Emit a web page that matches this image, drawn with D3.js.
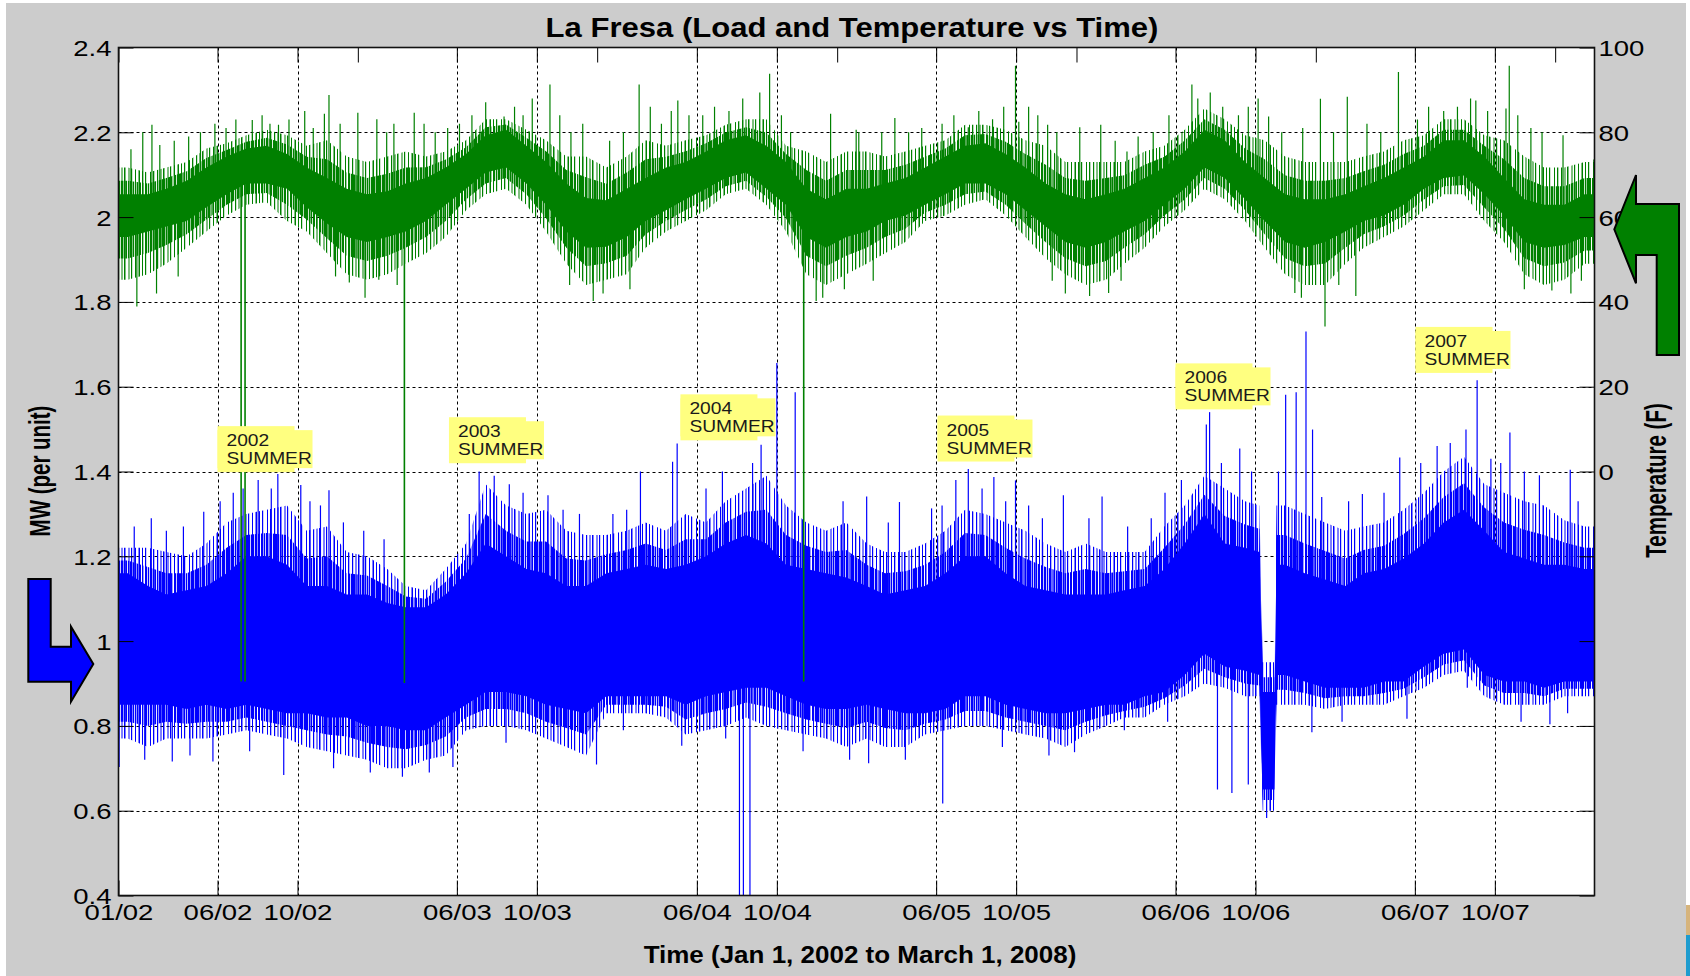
<!DOCTYPE html>
<html><head><meta charset="utf-8">
<script src="https://cdn.jsdelivr.net/npm/d3@7"></script>
<style>body{margin:0;background:#fff;} svg{display:block;}</style>
</head><body><svg id="c" width="1690" height="976"></svg>
<script>
// ---------------- DATA ----------------
const xTickDates = ["2002-01-01","2002-06-01","2002-10-01","2003-06-01","2003-10-01","2004-06-01","2004-10-01","2005-06-01","2005-10-01","2006-06-01","2006-10-01","2007-06-01","2007-10-01"];
const xTickLabels = ["01/02","06/02","10/02","06/03","10/03","06/04","10/04","06/05","10/05","06/06","10/06","06/07","10/07"];
const yearTickDates = ["2003-01-01","2004-01-01","2005-01-01","2006-01-01","2007-01-01","2008-01-01"];
const loadTicks = [0.4,0.6,0.8,1.0,1.2,1.4,1.6,1.8,2.0,2.2,2.4];
const loadTickLabels = ["0.4","0.6","0.8","1","1.2","1.4","1.6","1.8","2","2.2","2.4"];
const tempTicks = [0,20,40,60,80,100];

// Temperature (F) band, monthly readings
const tempDates = ["2002-01-01",
"2002-01-15","2002-02-15","2002-03-15","2002-04-15","2002-05-15","2002-06-15","2002-07-15","2002-08-15","2002-09-15","2002-10-15","2002-11-15","2002-12-15",
"2003-01-15","2003-02-15","2003-03-15","2003-04-15","2003-05-15","2003-06-15","2003-07-15","2003-08-15","2003-09-15","2003-10-15","2003-11-15","2003-12-15",
"2004-01-15","2004-02-15","2004-03-15","2004-04-15","2004-05-15","2004-06-15","2004-07-15","2004-08-15","2004-09-15","2004-10-15","2004-11-15","2004-12-15",
"2005-01-15","2005-02-15","2005-03-15","2005-04-15","2005-05-15","2005-06-15","2005-07-15","2005-08-15","2005-09-15","2005-10-15","2005-11-15","2005-12-15",
"2006-01-15","2006-02-15","2006-03-15","2006-04-15","2006-05-15","2006-06-15","2006-07-15","2006-08-15","2006-09-15","2006-10-15","2006-11-15","2006-12-15",
"2007-01-15","2007-02-15","2007-03-15","2007-04-15","2007-05-15","2007-06-15","2007-07-15","2007-08-15","2007-09-15","2007-10-15","2007-11-15","2007-12-15",
"2008-01-15","2008-02-15","2008-03-01"];
const tempCoreHi = [65.4,
65.4,65.4,66.7,68.6,71.7,74.3,76.2,76.8,74.9,71.7,69.2,66.7,
65.4,66.1,67.9,69.2,71.7,74.9,79.3,80.6,76.8,73.0,67.9,64.5,
64.0,66.7,69.2,71.7,73.0,75.5,78.1,79.3,76.8,73.0,66.7,64.2,
66.7,66.7,67.9,69.2,71.7,74.3,76.8,77.4,74.9,71.7,67.9,65.4,
64.2,65.4,66.7,69.2,71.7,75.5,80.6,78.1,73.0,69.2,65.4,64.2,
64.2,65.4,67.3,69.2,71.7,74.3,78.1,78.1,74.3,69.2,64.2,62.9,
62.9,65.4,65.4];
const tempCoreLo = [55.3,
55.3,56.6,57.8,59.1,62.3,65.4,67.9,67.9,66.7,62.3,58.5,55.3,
54.1,55.3,56.6,59.1,62.9,66.7,70.5,71.7,67.9,62.9,56.6,52.8,
53.0,55.3,59.1,61.6,64.2,66.7,69.2,70.5,66.7,62.9,55.3,52.8,
55.3,56.6,59.1,60.4,62.9,65.4,67.9,67.9,65.4,61.6,57.8,54.1,
52.8,54.1,56.6,59.1,62.9,66.7,71.7,69.2,64.2,59.1,54.1,52.8,
54.1,56.6,59.1,60.4,62.9,66.7,69.2,69.8,65.4,60.4,54.1,52.8,
53.4,55.3,55.3];
const tempFringeHi = [71.7,
71.7,70.5,71.7,73.0,76.2,77.4,79.3,80.6,79.3,76.8,78.1,74.3,
73.0,74.3,75.5,74.3,75.5,78.1,83.1,83.1,80.6,78.1,74.3,74.3,
71.7,74.3,78.1,76.8,78.1,79.3,81.8,83.1,83.1,76.8,75.5,73.0,
75.5,75.5,74.3,75.5,76.8,78.1,81.8,81.8,80.6,78.1,76.8,73.0,
73.0,73.0,73.0,75.5,76.8,80.6,85.6,83.1,79.3,78.1,74.3,73.0,
73.0,73.0,74.3,75.5,78.1,79.3,83.1,83.1,79.3,78.1,74.3,71.7,
71.7,73.0,73.0];
const tempFringeLo = [45.2,
45.2,46.5,49.0,52.8,56.6,60.4,62.9,63.5,59.1,56.6,51.5,46.5,
45.2,46.5,49.0,51.5,55.3,61.6,65.4,66.7,62.9,56.6,49.0,44.0,
45.2,46.5,52.8,56.6,59.1,61.6,65.4,66.7,62.9,56.6,46.5,44.0,
46.5,49.0,51.5,54.1,59.1,60.4,62.9,64.2,60.4,55.3,50.3,46.5,
44.0,45.2,49.0,52.8,57.8,61.6,66.7,64.2,59.1,52.8,46.5,44.0,
44.0,49.0,52.8,55.3,57.8,61.6,65.4,65.4,59.1,54.1,46.5,44.0,
45.2,49.0,49.0];
const tempSpikeDates = ["2002-02-21","2002-02-07","2002-07-24","2002-09-02","2002-11-18","2002-11-11","2003-01-01","2003-01-30","2003-03-28","2003-07-15","2003-08-12","2003-10-21","2004-03-05","2004-05-03","2004-04-23","2004-09-05","2004-09-20","2004-12-22","2005-01-30",
"2005-02-03","2005-03-30","2005-07-20","2005-08-26","2005-09-30","2005-10-05","2005-11-18","2006-01-06","2006-02-07","2006-03-19","2006-06-26","2006-07-24","2006-10-21","2007-01-08","2007-02-18","2007-05-07","2007-09-02","2007-10-18","2007-10-23","2008-01-13","2008-02-29",
"2002-01-29","2002-12-19","2003-02-02","2003-12-26","2004-11-30","2006-01-21","2006-02-19","2006-11-30","2007-01-15","2007-03-03","2007-12-27",
"2002-01-20","2002-03-05","2002-03-27","2002-04-18","2002-05-06","2002-05-28","2002-06-14","2002-06-29","2002-08-08","2002-08-20","2002-09-18","2002-10-12","2002-10-25","2002-12-05",
"2003-02-14","2003-02-25","2003-04-12","2003-04-29","2003-05-18","2003-06-05","2003-06-24","2003-08-28","2003-09-10","2003-09-24","2003-11-05","2003-11-22","2003-12-10",
"2004-01-20","2004-02-10","2004-03-22","2004-04-08","2004-05-20","2004-06-10","2004-06-28","2004-07-20","2004-08-10","2004-10-08","2004-10-22",
"2005-03-10","2005-04-20","2005-05-10","2005-06-10","2005-06-28","2005-08-05","2005-09-12","2005-10-20","2005-11-03","2005-12-02",
"2006-03-01","2006-04-05","2006-04-28","2006-05-22","2006-07-05","2006-08-12","2006-09-05","2006-09-20","2006-10-05","2006-11-10","2006-12-12",
"2007-01-28","2007-03-20","2007-04-10","2007-06-05","2007-06-22","2007-07-15","2007-08-05","2007-08-25","2007-09-20","2007-11-05","2007-11-25","2007-12-12",
"2002-02-28","2002-04-02","2002-11-28","2003-01-12","2003-03-02","2003-11-20","2004-01-10","2004-02-20","2004-12-10","2005-01-12","2005-02-25","2005-11-25","2005-12-15","2006-03-10","2006-12-10","2007-02-05","2007-11-15","2008-01-25","2008-02-10"];
const tempSpikeValues = [81.8,80.0,82.9,81.8,88.8,84.4,84.6,83.1,84.6,87.1,83.7,91.3,91.3,87.5,85.0,89.4,93.8,84.4,80.6,
80.0,83.4,81.2,83.1,95.7,82.5,81.8,81.2,81.8,75.5,91.3,89.4,83.7,87.9,88.4,94.2,87.5,85.6,95.7,79.3,73.6,
38.9,44.6,45.2,40.2,40.2,41.4,42.1,42.1,34.2,41.4,42.7,
76,77,78,79,80,82,81,83,84,82,83,85,81,82,
80,82,82,80,81,82,84,86,84,88,84,80,82,
78,80,86,82,84,84,86,85,88,84,80,
80,80,81,82,84,85,86,86,84,80,
78,79,80,84,88,86,84,86,88,80,81,
80,82,80,83,86,85,86,88,85,84,81,80,
42,46,46,41,44,44,42,43,41,43,45,45,42,45,41,44,43,42,45];
const tempDropDates = ["2002-07-07","2002-07-13","2003-03-13","2004-11-11"];
const tempDropValues = [-49.5,-49.5,-49.9,-49.5];

// Load (MW per unit) band, monthly readings
const loadDates = ["2002-01-01",
"2002-01-15","2002-02-15","2002-03-15","2002-04-15","2002-05-15","2002-06-15","2002-07-15","2002-08-15","2002-09-15","2002-10-15","2002-11-15","2002-12-15",
"2003-01-15","2003-02-15","2003-03-15","2003-04-15","2003-05-15","2003-06-15","2003-07-15","2003-08-15","2003-09-15","2003-10-15","2003-11-15","2003-12-15",
"2004-01-15","2004-02-15","2004-03-15","2004-04-15","2004-05-15","2004-06-15","2004-07-15","2004-08-15","2004-09-15","2004-10-15","2004-11-15","2004-12-15",
"2005-01-15","2005-02-15","2005-03-15","2005-04-15","2005-05-15","2005-06-15","2005-07-15","2005-08-15","2005-09-15","2005-10-15","2005-11-15","2005-12-15",
"2006-01-15","2006-02-15","2006-03-15","2006-04-15","2006-05-15","2006-06-15","2006-07-15","2006-08-15","2006-09-15","2006-10-07","2006-10-12","2006-10-30","2006-11-02","2006-11-15","2006-12-15",
"2007-01-15","2007-02-15","2007-03-15","2007-04-15","2007-05-15","2007-06-15","2007-07-15","2007-08-15","2007-09-15","2007-10-15","2007-11-15","2007-12-15",
"2008-01-15","2008-02-15","2008-03-01"];
const loadCoreHi = [1.16,
1.16,1.13,1.11,1.12,1.13,1.16,1.20,1.20,1.18,1.13,1.13,1.11,
1.11,1.09,1.08,1.08,1.11,1.16,1.23,1.20,1.17,1.16,1.13,1.13,
1.16,1.17,1.18,1.17,1.18,1.20,1.23,1.25,1.23,1.18,1.17,1.16,
1.15,1.13,1.11,1.12,1.13,1.16,1.20,1.20,1.16,1.13,1.12,1.11,
1.11,1.11,1.12,1.13,1.17,1.23,1.30,1.23,1.22,1.21,0.88,0.88,1.18,1.18,1.16,
1.145,1.13,1.16,1.17,1.195,1.23,1.28,1.31,1.26,1.21,1.195,1.18,
1.18,1.17,1.17];
const loadCoreLo = [0.85,
0.85,0.85,0.85,0.84,0.85,0.84,0.85,0.84,0.83,0.83,0.82,0.82,
0.80,0.80,0.79,0.79,0.82,0.85,0.88,0.88,0.87,0.85,0.84,0.83,
0.87,0.87,0.87,0.87,0.85,0.87,0.88,0.89,0.89,0.87,0.85,0.84,
0.84,0.85,0.84,0.83,0.83,0.84,0.87,0.87,0.85,0.84,0.83,0.83,
0.84,0.85,0.85,0.87,0.88,0.92,0.97,0.94,0.93,0.92,0.65,0.65,0.92,0.92,0.905,
0.89,0.89,0.89,0.905,0.905,0.94,0.97,0.98,0.92,0.905,0.905,0.89,
0.905,0.905,0.905];
const loadFringeHi = [1.22,
1.22,1.22,1.21,1.20,1.23,1.28,1.30,1.31,1.32,1.26,1.27,1.21,
1.20,1.17,1.13,1.12,1.17,1.23,1.37,1.32,1.30,1.31,1.26,1.25,
1.25,1.26,1.28,1.26,1.30,1.28,1.33,1.36,1.39,1.32,1.28,1.26,
1.28,1.23,1.21,1.21,1.23,1.26,1.31,1.30,1.28,1.26,1.23,1.21,
1.23,1.21,1.21,1.21,1.27,1.32,1.39,1.36,1.33,1.32,0.95,0.95,1.32,1.32,1.30,
1.28,1.26,1.27,1.28,1.31,1.35,1.40,1.435,1.37,1.35,1.33,1.32,
1.285,1.27,1.27];
const loadFringeLo = [0.77,
0.77,0.75,0.77,0.77,0.77,0.78,0.79,0.78,0.77,0.75,0.74,0.73,
0.72,0.70,0.70,0.72,0.73,0.79,0.80,0.80,0.79,0.77,0.75,0.73,
0.83,0.83,0.83,0.82,0.78,0.79,0.80,0.82,0.80,0.79,0.78,0.77,
0.75,0.77,0.75,0.75,0.78,0.79,0.80,0.80,0.79,0.78,0.77,0.75,
0.78,0.80,0.82,0.82,0.85,0.87,0.90,0.89,0.87,0.87,0.60,0.60,0.85,0.85,0.85,
0.84,0.85,0.85,0.85,0.87,0.89,0.92,0.93,0.87,0.85,0.85,0.85,
0.87,0.87,0.87];
const loadSpikeDates = ["2002-05-11","2002-09-01","2002-10-06","2002-11-18","2003-10-18","2004-03-07","2004-05-02","2004-04-25","2004-09-07","2004-10-01","2004-10-29",
"2005-02-15","2005-04-06","2005-05-25","2005-07-20","2005-08-28","2005-09-30","2005-12-12","2006-02-09","2006-05-16","2006-07-18","2006-07-23","2006-09-07","2006-11-16","2006-12-02","2006-12-17","2006-12-27",
"2007-03-13","2007-05-09","2007-07-25","2007-08-18","2007-09-04","2007-10-24","2007-12-08","2008-01-24",
"2002-01-02","2002-03-24","2002-05-25","2002-09-10","2003-05-26","2003-12-31","2004-05-09","2004-08-05","2004-08-11","2004-08-21",
"2005-02-18","2005-06-11","2005-12-29","2006-08-04","2006-08-26","2006-09-20","2006-10-18","2006-12-26","2007-05-20","2007-12-24",
"2002-01-25","2002-02-20","2002-03-15","2002-04-10","2002-06-05","2002-06-25","2002-07-10","2002-08-02","2002-08-22","2002-10-20","2002-11-05","2002-12-10",
"2003-01-10","2003-02-10","2003-06-20","2003-07-05","2003-07-28","2003-08-20","2003-09-10","2003-11-10","2003-12-05",
"2004-01-25","2004-02-15","2004-06-15","2004-07-10","2004-08-25","2005-01-10","2005-03-20","2005-06-10","2005-07-01","2005-08-10","2005-09-15","2005-10-20","2005-11-10",
"2006-01-20","2006-03-20","2006-04-25","2006-06-10","2006-08-10","2006-09-25","2006-11-05","2007-01-10","2007-02-20","2007-04-15","2007-06-10","2007-07-05","2007-09-25","2007-10-10","2007-11-15","2008-02-05",
"2002-02-10","2002-04-20","2002-07-20","2002-11-25","2003-01-20","2003-03-10","2003-04-20","2003-08-15","2004-02-10","2004-07-15","2004-11-10","2005-01-20","2005-04-15","2005-09-10","2005-11-20","2006-03-15","2006-05-20","2007-02-10","2007-08-20","2007-11-10","2008-01-20"];
const loadSpikeValues = [1.305,1.394,1.368,1.356,1.344,1.40,1.466,1.423,1.463,1.656,1.587,
1.341,1.328,1.313,1.406,1.387,1.379,1.344,1.341,1.35,1.511,1.54,1.454,1.581,1.587,1.73,1.499,
1.347,1.433,1.467,1.499,1.615,1.492,1.391,1.404,
0.703,0.716,0.716,0.684,0.703,0.709,0.753,0.30,0.30,0.30,
0.712,0.617,0.738,0.65,0.642,0.662,0.583,0.785,0.817,0.804,
1.27,1.29,1.26,1.27,1.33,1.35,1.36,1.38,1.36,1.33,1.32,1.28,
1.26,1.24,1.30,1.40,1.39,1.37,1.35,1.31,1.30,
1.30,1.31,1.36,1.40,1.42,1.33,1.28,1.32,1.38,1.36,1.33,1.32,1.29,
1.29,1.27,1.29,1.38,1.42,1.40,1.40,1.34,1.33,1.35,1.42,1.46,1.43,1.42,1.40,1.33,
0.72,0.73,0.74,0.70,0.69,0.68,0.69,0.76,0.79,0.77,0.74,0.72,0.72,0.75,0.73,0.79,0.81,0.81,0.89,0.81,0.83];

const annoYears = ["2002","2003","2004","2005","2006","2007"];
const annoDates = ["2002-06-01","2003-05-20","2004-05-07","2005-06-03","2006-06-01","2007-06-02"];
const annoValues = [1.507,1.528,1.582,1.532,1.655,1.741];

// ---------------- CHART ----------------
const FONT = "'Liberation Sans', Arial, Helvetica, sans-serif";
const L = 118.5, R = 1594.5, T = 47.5, B = 895.5;
const parse = d3.utcParse("%Y-%m-%d");
const x = d3.scaleUtc().domain([parse("2002-01-01"), parse("2008-03-01")]).range([L, R]);
const yL = d3.scaleLinear().domain([0.4, 2.4]).range([B, T]);
const yR = d3.scaleLinear().domain([-100, 100]).range([B, T]);

const svg = d3.select("#c");
svg.append("rect").attr("x",6).attr("y",3).attr("width",1680).attr("height",973).attr("fill","#cccccc");
svg.append("rect").attr("x",1686).attr("y",905).attr("width",4).attr("height",30).attr("fill","#d6b47c");
svg.append("rect").attr("x",1686).attr("y",935).attr("width",4).attr("height",41).attr("fill","#1e9ccf");

const defs = svg.append("defs");
defs.append("clipPath").attr("id","plotclip").append("rect").attr("x",L).attr("y",T).attr("width",R-L).attr("height",B-T);
function stripes(id, color, w, bars){
  const p = defs.append("pattern").attr("id",id).attr("patternUnits","userSpaceOnUse").attr("width",w).attr("height",10);
  bars.forEach(([px,bw])=>p.append("rect").attr("x",px).attr("y",0).attr("width",bw).attr("height",10).attr("fill",color));
}
const dense = [[0,2],[2.8,1.2],[4.8,2.2],[7.6,1],[9.3,1.8],[12,1.2],[13.9,2.5],[17,1],[18.8,1.6],[21,1.2],[23,2],[26,1.4]];
const sparse = [[1,1.2],[4.5,1],[7,1.5],[11.5,1],[14,1.2],[18,1],[21.5,1.5],[25,1],[28,1.2],[33,1],[36,1.3]];
stripes("denseB","#0000ff",29,dense); stripes("sparseB","#0000ff",39,sparse);
stripes("denseG","#008000",29,dense); stripes("sparseG","#008000",39,sparse);

svg.append("rect").attr("x",L).attr("y",T).attr("width",R-L).attr("height",B-T).attr("fill","#fff");

// grid
const grid = svg.append("g").attr("stroke","#000").attr("stroke-width",1).attr("stroke-dasharray","3,3");
grid.selectAll("line.h").data(loadTicks.slice(1,-1)).join("line")
  .attr("x1",L).attr("x2",R).attr("y1",d=>Math.round(yL(d))+0.5).attr("y2",d=>Math.round(yL(d))+0.5);
grid.selectAll("line.v").data(xTickDates.slice(1)).join("line")
  .attr("y1",T).attr("y2",B).attr("x1",d=>Math.round(x(parse(d)))+0.5).attr("x2",d=>Math.round(x(parse(d)))+0.5);

const plot = svg.append("g").attr("clip-path","url(#plotclip)");

function drawSeries(dates, coreHi, coreLo, frHi, frLo, yS, color, key, spDates, spVals){
  const ts = dates.map(parse);
  const data = ts.map((t,i)=>({t, ch:coreHi[i], cl:coreLo[i], fh:frHi[i], fl:frLo[i]}));
  const ar = (lo, hi) => d3.area().x(d=>x(d.t)).y0(d=>yS(lo(d))).y1(d=>yS(hi(d)));
  plot.append("path").datum(data).attr("fill",`url(#sparse${key})`).attr("d", ar(d=>d.fl, d=>d.fh));
  plot.append("path").datum(data).attr("fill",`url(#dense${key})`)
    .attr("d", ar(d=>(d.fl+d.cl)/2, d=>(d.fh+d.ch)/2));
  const mid = t => {
    let i = d3.bisectLeft(ts, t); i = Math.max(1, Math.min(ts.length-1, i));
    const a = data[i-1], b = data[i];
    const f = Math.max(0, Math.min(1, (t - a.t) / (b.t - a.t)));
    return ((a.ch+a.cl)/2)*(1-f) + ((b.ch+b.cl)/2)*f;
  };
  plot.append("g").attr("stroke",color).attr("stroke-width",1.2)
    .selectAll("line").data(spDates.map((d,i)=>({t:parse(d), v:spVals[i]}))).join("line")
    .attr("x1",d=>x(d.t)).attr("x2",d=>x(d.t))
    .attr("y1",d=>yS(mid(d.t))).attr("y2",d=>yS(d.v));
  plot.append("path").datum(data).attr("fill",color).attr("d", ar(d=>d.cl, d=>d.ch));
  return mid;
}
drawSeries(loadDates, loadCoreHi, loadCoreLo, loadFringeHi, loadFringeLo, yL, "#0000ff", "B", loadSpikeDates, loadSpikeValues);
const tMid = drawSeries(tempDates, tempCoreHi, tempCoreLo, tempFringeHi, tempFringeLo, yR, "#008000", "G", tempSpikeDates, tempSpikeValues);
plot.append("g").attr("stroke","#008000").attr("stroke-width",1.6)
  .selectAll("line").data(tempDropDates.map((d,i)=>({t:parse(d), v:tempDropValues[i]}))).join("line")
  .attr("x1",d=>x(d.t)).attr("x2",d=>x(d.t)).attr("y1",d=>yR(tMid(d.t))).attr("y2",d=>yR(d.v));

// annotations
const anno = svg.append("g");
annoYears.forEach((yr,i)=>{
  const lx = x(parse(annoDates[i])), ty = yL(annoValues[i]);
  const g = anno.append("g").attr("transform",`translate(${lx},${ty})`);
  g.append("rect").attr("x",0).attr("y",0).attr("width",77).attr("height",46).attr("fill","#ffff80");
  g.append("rect").attr("x",0).attr("y",4).attr("width",95).attr("height",38).attr("fill","#ffff80");
  [[yr,20],["SUMMER",38]].forEach(([s,by])=>{
    g.append("text").attr("transform",`translate(9,${by}) scale(1.2,1)`).attr("font-family",FONT)
      .attr("font-size",16).attr("fill","#1a1a1a").text(s);
  });
});

// axes
function styleAxis(g){ g.select(".domain").remove(); g.selectAll(".tick line").attr("stroke","#000").attr("stroke-width",1); }
const TL = 15;
const axL = svg.append("g").attr("transform",`translate(${L},0)`)
  .call(d3.axisLeft(yL).tickValues(loadTicks).tickFormat((d,i)=>loadTickLabels[i]).tickSizeInner(-TL).tickSizeOuter(0).tickPadding(7));
styleAxis(axL);
axL.selectAll("text").attr("x",null).attr("dy","0.36em").attr("transform","translate(-7,0) scale(1.25,1)")
  .attr("font-family",FONT).attr("font-size",22).attr("fill","#000");

const axRm = svg.append("g").attr("transform",`translate(${R},0)`)
  .call(d3.axisRight(yL).tickValues(loadTicks).tickFormat("").tickSizeInner(-TL).tickSizeOuter(0));
styleAxis(axRm);
const axR = svg.append("g").attr("transform",`translate(${R},0)`)
  .call(d3.axisRight(yR).tickValues(tempTicks).tickFormat(d3.format("d")).tickSizeInner(0).tickSizeOuter(0).tickPadding(5));
styleAxis(axR);
axR.selectAll("text").attr("x",null).attr("dy","0.36em").attr("transform","translate(4,0) scale(1.25,1)")
  .attr("font-family",FONT).attr("font-size",22).attr("fill","#000");

const axB = svg.append("g").attr("transform",`translate(0,${B})`)
  .call(d3.axisBottom(x).tickValues(xTickDates.map(parse)).tickFormat((d,i)=>xTickLabels[i]).tickSizeInner(-TL).tickSizeOuter(0));
styleAxis(axB);
axB.selectAll("text").attr("y",null).attr("dy",null).attr("transform","translate(0,24.5) scale(1.25,1)")
  .attr("font-family",FONT).attr("font-size",22).attr("fill","#000");

const axT = svg.append("g").attr("transform",`translate(0,${T})`)
  .call(d3.axisTop(x).tickValues(xTickDates.concat(yearTickDates).map(parse)).tickFormat("").tickSizeInner(-TL).tickSizeOuter(0));
styleAxis(axT);

svg.append("rect").attr("x",L).attr("y",T).attr("width",R-L).attr("height",B-T)
  .attr("fill","none").attr("stroke","#111").attr("stroke-width",1.6);

// titles
function txt(xp, yp, s, size, weight, sx, rot){
  svg.append("text").attr("transform",`translate(${xp},${yp}) scale(${sx},1)` + (rot?` rotate(${rot})`:""))
    .attr("text-anchor","middle").attr("font-family",FONT).attr("font-size",size).attr("font-weight",weight)
    .attr("fill","#000").text(s);
}
txt(852, 37, "La Fresa (Load and Temperature vs Time)", 27, "bold", 1.15);
txt(860, 963, "Time (Jan 1, 2002 to March 1, 2008)", 23, "bold", 1.13);
txt(50, 471, "MW (per unit)", 20.5, "bold", 1.45, -90);
txt(1666, 480.5, "Temperature (F)", 20.5, "bold", 1.45, -90);

// arrows
svg.append("path").attr("d","M28.3,579 L50.7,579 L50.7,646.7 L71,646.7 L71,626.7 L93.3,664 L71,701.7 L71,681.7 L28.3,681.7 Z")
  .attr("fill","#0000ff").attr("stroke","#000").attr("stroke-width",2).attr("stroke-linejoin","miter");
svg.append("path").attr("d","M1614.3,229.3 L1636,175 L1636,204 L1679,204 L1679,355 L1656.7,355 L1656.7,255 L1636,255 L1636,283.3 Z")
  .attr("fill","#008000").attr("stroke","#000").attr("stroke-width",2).attr("stroke-linejoin","miter");
</script>
</body></html>
